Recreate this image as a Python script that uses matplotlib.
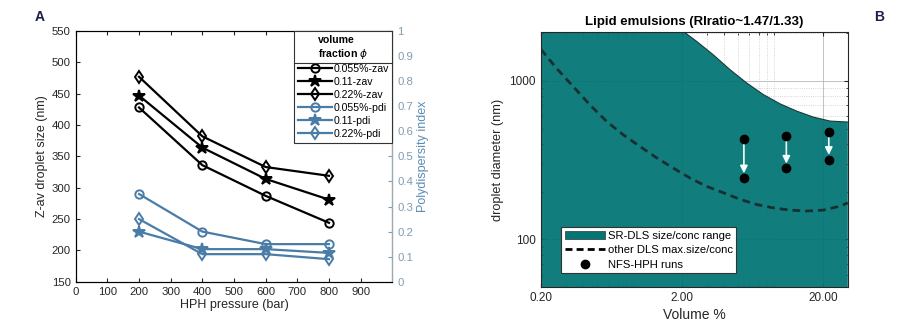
import matplotlib
matplotlib.use("Agg")
import matplotlib.pyplot as plt
from matplotlib.lines import Line2D
from matplotlib.patches import Patch
from matplotlib.ticker import LogLocator, NullFormatter, FixedLocator, FuncFormatter

plt.rcParams['font.family'] = ['Liberation Sans', 'DejaVu Sans']
plt.rcParams['mathtext.fontset'] = 'dejavusans'

# ---- panel A data ----
pressure = [200, 400, 600, 800]
zav_0055 = [428, 336, 287, 244]
zav_011 = [447, 364, 314, 281]
zav_022 = [477, 382, 333, 319]
pdi_0055 = [0.35, 0.20, 0.15, 0.15]
pdi_011 = [0.20, 0.13, 0.13, 0.115]
pdi_022 = [0.25, 0.11, 0.11, 0.09]
zav_labels = ['0.055%-zav', '0.11-zav', '0.22%-zav']
pdi_labels = ['0.055%-pdi', '0.11-pdi', '0.22%-pdi']
markers = ['o', '*', 'd']

# ---- panel B data ----
# upper edge of the SR-DLS range
sr_x = [0.2, 1.0, 2.04, 2.54, 3.33, 4.38, 5.75, 7.55, 9.91, 13.0, 17.1, 22.4, 30.0]
sr_y = [5000, 4000, 2054, 1777, 1463, 1178, 971, 820, 717, 645, 591, 558, 550]
# other DLS max size/conc curve
dls_x = [0.2, 0.258, 0.339, 0.445, 0.585, 0.767, 1.007, 1.323, 1.734, 2.28,
         2.99, 3.93, 5.16, 6.77, 8.89, 11.67, 15.3, 20.1, 26.4, 30.0]
dls_y = [1582, 1202, 921, 706, 555, 457, 386, 327, 282, 244,
         216, 197, 179, 166, 158, 153, 151, 153, 162, 170]
run_x = [5.5, 11, 22]
run_before = [428, 447, 477]
run_after = [244, 281, 319]

black = 'black'
blue = '#4a7ca8'
pdi_axis_col = '#7f9cb3'
teal = '#037575'

fig = plt.figure(figsize=(9, 3.35), dpi=100)

# ================= panel A =================
ax = fig.add_axes([0.0841, 0.159, 0.3518, 0.7484])
ax2 = ax.twinx()

handles = []
for ys, lab, m in zip([zav_0055, zav_011, zav_022], zav_labels, markers):
    ms = 9 if m == '*' else 6
    h, = ax.plot(pressure, ys, color=black, lw=1.6, marker=m, ms=ms,
                 mfc='none' if m != '*' else black, mew=1.4, label=lab)
    handles.append(h)
for ys, lab, m in zip([pdi_0055, pdi_011, pdi_022], pdi_labels, markers):
    ms = 9 if m == '*' else 6
    h, = ax2.plot(pressure, ys, color=blue, lw=1.6, marker=m, ms=ms,
                  mfc='none' if m != '*' else blue, mew=1.4, label=lab)
    handles.append(h)

ax.set_xlim(0, 1000)
ax.set_xticks(range(0, 1000, 100))
ax.set_ylim(150, 550)
ax.set_yticks(range(150, 551, 50))
ax2.set_ylim(0, 1)
ax2.set_yticks([i / 10 for i in range(11)])
ax2.yaxis.set_major_formatter(FuncFormatter(lambda v, p: '0' if v == 0 else ('1' if v == 1 else f'{v:.1f}')))

ax.set_xlabel('HPH pressure (bar)', fontsize=9, color='#262626', labelpad=2)
ax.set_ylabel('Z-av droplet size (nm)', fontsize=9, color='#262626', labelpad=3)
ax2.set_ylabel('Polydispersity index', fontsize=9, color='#5b8db5', labelpad=3)
ax.tick_params(direction='in', labelsize=8.2, colors='#262626', top=True, length=3)
ax2.tick_params(direction='in', labelsize=8.2, colors=pdi_axis_col, length=3)
for s in ['top', 'bottom', 'left']:
    ax.spines[s].set_color('#262626')
    ax.spines[s].set_linewidth(0.8)
ax2.spines['right'].set_color('#9aa9b5')
ax2.spines['right'].set_linewidth(0.8)

leg = ax2.legend(handles=handles, loc='upper right', bbox_to_anchor=(1.0, 1.0),
                 title='volume\nfraction $\\phi$',
                 fontsize=7.6, title_fontsize=7.6, fancybox=False, framealpha=1,
                 edgecolor='#333333', handlelength=3.2, handletextpad=0.15,
                 labelspacing=0.28, borderpad=0.35, borderaxespad=0)
leg.get_title().set_fontweight('bold')
leg.get_title().set_linespacing(1.25)
leg.get_frame().set_linewidth(0.8)

# ================= panel B =================
bx = fig.add_axes([0.601, 0.143, 0.341, 0.761])
bx.set_xscale('log')
bx.set_yscale('log')
bx.set_xlim(0.2, 30)
bx.set_ylim(50, 2030)

bx.fill_between(sr_x, 1, sr_y, color=teal, lw=0, alpha=0.94, zorder=2)
bx.plot(sr_x, sr_y, color='#1a3a3a', lw=0.8, zorder=2.5)
bx.plot(dls_x, dls_y, color='#17302f', lw=2.0, ls=(0, (2.8, 1.8)), zorder=3)

for x, y0, y1 in zip(run_x, run_before, run_after):
    bx.annotate('', xy=(x, y1 * 1.07), xytext=(x, y0 * 0.96),
                arrowprops=dict(arrowstyle='-|>', color='#f2ffff', lw=1.2,
                                mutation_scale=11, shrinkA=0, shrinkB=0), zorder=4)
bx.plot(run_x, run_before, 'o', color='black', ms=6, zorder=5, ls='none')
bx.plot(run_x, run_after, 'o', color='black', ms=6, zorder=5, ls='none')

bx.xaxis.set_major_locator(FixedLocator([0.2, 2, 20]))
bx.xaxis.set_major_formatter(FuncFormatter(lambda v, p: f'{v:.2f}'))
bx.xaxis.set_minor_locator(LogLocator(base=10, subs=range(2, 10)))
bx.xaxis.set_minor_formatter(NullFormatter())
bx.yaxis.set_major_locator(FixedLocator([100, 1000]))
bx.yaxis.set_major_formatter(FuncFormatter(lambda v, p: f'{int(v)}'))
bx.yaxis.set_minor_locator(LogLocator(base=10, subs=range(2, 10)))
bx.yaxis.set_minor_formatter(NullFormatter())

bx.grid(True, which='major', color='#b8b8b8', lw=0.6, ls='-')
bx.grid(True, which='minor', color='#c8c8c8', lw=0.6, ls=':')
bx.set_axisbelow(True)
bx.tick_params(which='both', direction='in', top=True, right=True,
               labelsize=8.5, colors='#262626')
bx.tick_params(which='major', length=3)
bx.tick_params(which='minor', length=1.8)
for s in bx.spines.values():
    s.set_color('#262626')
    s.set_linewidth(0.8)
    s.set_zorder(6)

bx.set_xlabel('Volume %', fontsize=10, color='#262626', labelpad=3)
bx.set_ylabel('droplet diameter (nm)', fontsize=9.2, color='#262626', labelpad=4)
bx.set_title('Lipid emulsions (RIratio~1.47/1.33)', fontsize=9.5,
             fontweight='bold', pad=5)

leg_b = bx.legend(handles=[Patch(facecolor=teal, edgecolor='#333333', lw=0.5),
                           Line2D([], [], color='black', lw=2, ls=(0, (2.5, 1.5))),
                           Line2D([], [], color='black', marker='o', ls='none', ms=6)],
                  labels=['SR-DLS size/conc range', 'other DLS max.size/conc', 'NFS-HPH runs'],
                  loc='lower left', bbox_to_anchor=(0.067, 0.055), fontsize=8.1,
                  fancybox=False, framealpha=1, edgecolor='#333333',
                  handlelength=3.6, handletextpad=0.2, labelspacing=0.4,
                  borderpad=0.3, borderaxespad=0)
leg_b.get_frame().set_linewidth(0.8)
leg_b.set_zorder(7)

# panel letters
fig.text(40 / 900, 1 - 17 / 335, 'A', fontsize=10, fontweight='bold',
         color='#1c1f4a', ha='center', va='center')
fig.text(879 / 900, 1 - 17 / 335, 'B', fontsize=10, fontweight='bold',
         color='#1c1f4a', ha='center', va='center')

# separator under legend title in A
fig.canvas.draw()
r = fig.canvas.get_renderer()
fb = leg.get_frame().get_window_extent(r)
tb = leg.get_title().get_window_extent(r)
ysep = tb.y0 - 2
fig.add_artist(Line2D([fb.x0 / fig.bbox.width, fb.x1 / fig.bbox.width],
                      [ysep / fig.bbox.height, ysep / fig.bbox.height],
                      color='#333333', lw=0.8, transform=fig.transFigure))

fig.savefig('out.png', dpi=100)
